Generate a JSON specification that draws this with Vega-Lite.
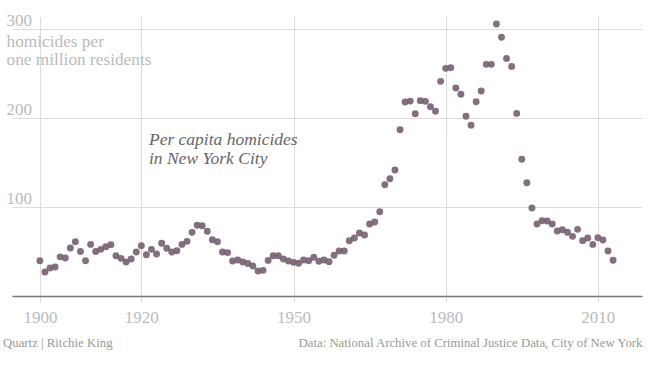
{
  "$schema": "https://vega.github.io/schema/vega-lite/v6.json",
  "width": 630,
  "height": 279,
  "autosize": {"type": "none"},
  "padding": {"left": 12, "top": 17, "right": 8, "bottom": 79},
  "background": "white",
  "config": {
    "font": "Liberation Serif",
    "view": {"stroke": null}
  },
  "title": {
    "text": "Quartz | Ritchie King",
    "orient": "bottom",
    "anchor": "start",
    "frame": "group",
    "fontSize": 12.8,
    "fontWeight": "normal",
    "color": "#999999",
    "font": "Liberation Serif",
    "dx": -9,
    "dy": -12,
    "offset": 0
  },
  "layer": [
    {
      "data": {
        "values": [
          {"year": 1900, "rate": 39.7}, {"year": 1901, "rate": 27}, {"year": 1902, "rate": 31.5}, {"year": 1903, "rate": 32.6},
          {"year": 1904, "rate": 44}, {"year": 1905, "rate": 42.7}, {"year": 1906, "rate": 54}, {"year": 1907, "rate": 61},
          {"year": 1908, "rate": 50}, {"year": 1909, "rate": 39.7}, {"year": 1910, "rate": 58}, {"year": 1911, "rate": 50},
          {"year": 1912, "rate": 52.4}, {"year": 1913, "rate": 55.4}, {"year": 1914, "rate": 57.7}, {"year": 1915, "rate": 45.3},
          {"year": 1916, "rate": 42.3}, {"year": 1917, "rate": 38.2}, {"year": 1918, "rate": 41.6}, {"year": 1919, "rate": 49.4},
          {"year": 1920, "rate": 56.5}, {"year": 1921, "rate": 46.4}, {"year": 1922, "rate": 52.4}, {"year": 1923, "rate": 47.2},
          {"year": 1924, "rate": 59.2}, {"year": 1925, "rate": 53.6}, {"year": 1926, "rate": 49.4}, {"year": 1927, "rate": 50.9},
          {"year": 1928, "rate": 58}, {"year": 1929, "rate": 61.4}, {"year": 1930, "rate": 71.5}, {"year": 1931, "rate": 79.4},
          {"year": 1932, "rate": 79}, {"year": 1933, "rate": 72.7}, {"year": 1934, "rate": 63.3}, {"year": 1935, "rate": 61},
          {"year": 1936, "rate": 49.4}, {"year": 1937, "rate": 48.7}, {"year": 1938, "rate": 39.3}, {"year": 1939, "rate": 40.5},
          {"year": 1940, "rate": 38.3}, {"year": 1941, "rate": 36.5}, {"year": 1942, "rate": 33.7}, {"year": 1943, "rate": 28},
          {"year": 1944, "rate": 28.8}, {"year": 1945, "rate": 40}, {"year": 1946, "rate": 45.3}, {"year": 1947, "rate": 45.3},
          {"year": 1948, "rate": 41.6}, {"year": 1949, "rate": 39.3}, {"year": 1950, "rate": 37.8}, {"year": 1951, "rate": 36.7},
          {"year": 1952, "rate": 40.4}, {"year": 1953, "rate": 39.7}, {"year": 1954, "rate": 43.5}, {"year": 1955, "rate": 39},
          {"year": 1956, "rate": 40.4}, {"year": 1957, "rate": 38.6}, {"year": 1958, "rate": 45.7}, {"year": 1959, "rate": 50.6},
          {"year": 1960, "rate": 50.6}, {"year": 1961, "rate": 62}, {"year": 1962, "rate": 65.2}, {"year": 1963, "rate": 70.8},
          {"year": 1964, "rate": 68.5}, {"year": 1965, "rate": 80.9}, {"year": 1966, "rate": 83.1}, {"year": 1967, "rate": 94.7},
          {"year": 1968, "rate": 125}, {"year": 1969, "rate": 131.8}, {"year": 1970, "rate": 141.6}, {"year": 1971, "rate": 186.9},
          {"year": 1972, "rate": 218}, {"year": 1973, "rate": 219}, {"year": 1974, "rate": 204.9}, {"year": 1975, "rate": 219.5},
          {"year": 1976, "rate": 218.7}, {"year": 1977, "rate": 212.7}, {"year": 1978, "rate": 207.5}, {"year": 1979, "rate": 241.2},
          {"year": 1980, "rate": 255.8}, {"year": 1981, "rate": 256.5}, {"year": 1982, "rate": 233.7}, {"year": 1983, "rate": 226.6},
          {"year": 1984, "rate": 201.9}, {"year": 1985, "rate": 192}, {"year": 1986, "rate": 218.3}, {"year": 1987, "rate": 230.3},
          {"year": 1988, "rate": 260.3}, {"year": 1989, "rate": 260.3}, {"year": 1990, "rate": 305.6}, {"year": 1991, "rate": 290.7},
          {"year": 1992, "rate": 267}, {"year": 1993, "rate": 258}, {"year": 1994, "rate": 205.2}, {"year": 1995, "rate": 153.6},
          {"year": 1996, "rate": 127.3}, {"year": 1997, "rate": 98.9}, {"year": 1998, "rate": 80.9}, {"year": 1999, "rate": 84.6},
          {"year": 2000, "rate": 84.3}, {"year": 2001, "rate": 80.9}, {"year": 2002, "rate": 73}, {"year": 2003, "rate": 74.5},
          {"year": 2004, "rate": 71.6}, {"year": 2005, "rate": 67}, {"year": 2006, "rate": 74.9}, {"year": 2007, "rate": 62.2},
          {"year": 2008, "rate": 65.2}, {"year": 2009, "rate": 58}, {"year": 2010, "rate": 65.5}, {"year": 2011, "rate": 62.9},
          {"year": 2012, "rate": 50.6}, {"year": 2013, "rate": 40.1}
        ]
      },
      "mark": {"type": "circle", "size": 48, "color": "#765f72", "opacity": 0.9},
      "encoding": {
        "x": {
          "field": "year",
          "type": "quantitative",
          "scale": {"domain": [1894.5, 2018.7], "nice": false, "zero": false},
          "axis": {
            "values": [1900, 1920, 1950, 1980, 2010],
            "format": "d",
            "grid": true,
            "gridColor": "#dddddd",
            "ticks": true,
            "tickColor": "#dddddd",
            "tickSize": 6,
            "domainColor": "#777777",
            "domainWidth": 1.5,
            "labelFont": "Liberation Serif",
            "labelFontSize": 17,
            "labelColor": "#bbbbbb",
            "labelPadding": 7,
            "title": "Data: National Archive of Criminal Justice Data, City of New York",
            "titleFont": "Liberation Serif",
            "titleFontSize": 12.8,
            "titleFontWeight": "normal",
            "titleColor": "#999999",
            "titleAnchor": "end",
            "titleAlign": "right",
            "titleBaseline": "alphabetic",
            "titleX": 630,
            "titleY": 50
          }
        },
        "y": {
          "field": "rate",
          "type": "quantitative",
          "scale": {"domain": [0, 313.5], "nice": false},
          "axis": {
            "values": [100, 200, 300],
            "grid": true,
            "gridColor": "#dddddd",
            "ticks": false,
            "domain": false,
            "labelFont": "Liberation Serif",
            "labelFontSize": 17,
            "labelColor": "#bbbbbb",
            "labelAlign": "left",
            "labelBaseline": "bottom",
            "labelPadding": 6,
            "title": ["homicides per", "one million residents"],
            "titleFont": "Liberation Serif",
            "titleFontSize": 17.3,
            "titleFontWeight": "normal",
            "titleColor": "#bbbbbb",
            "titleAngle": 0,
            "titleAlign": "left",
            "titleBaseline": "alphabetic",
            "titleLineHeight": 18,
            "titleX": -6,
            "titleY": 29
          }
        }
      }
    },
    {
      "data": {"values": [{"year": 1921.5, "rate": 169.7, "label": ["Per capita homicides", "in New York City"]}]},
      "mark": {
        "type": "text",
        "align": "left",
        "baseline": "alphabetic",
        "font": "Liberation Serif",
        "fontStyle": "italic",
        "fontSize": 17.5,
        "lineHeight": 19,
        "color": "#666666"
      },
      "encoding": {
        "x": {"field": "year", "type": "quantitative"},
        "y": {"field": "rate", "type": "quantitative"},
        "text": {"field": "label"}
      }
    }
  ]
}
